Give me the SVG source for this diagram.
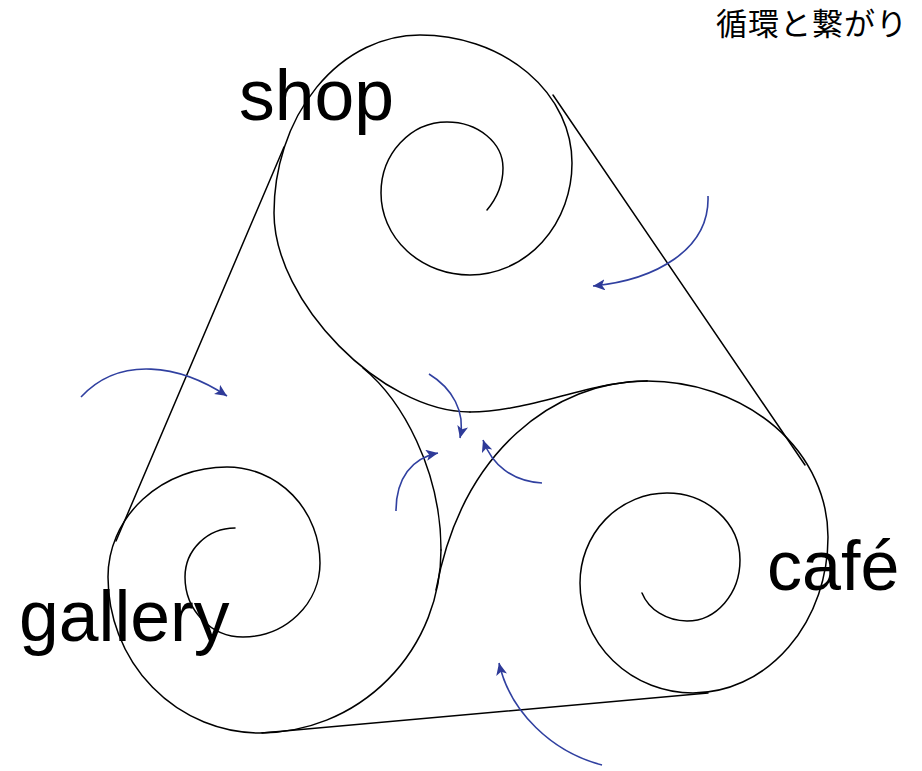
<svg xmlns="http://www.w3.org/2000/svg" width="922" height="771" viewBox="0 0 922 771">
  <style>
    .line { fill: none; stroke: #000; stroke-width: 1.5; stroke-linecap: round; stroke-linejoin: round; }
    .flow { fill: none; stroke: #3040a0; stroke-width: 1.6; marker-end: url(#ah); }
    .label { font-family: "Liberation Sans", Arial, Helvetica, sans-serif; font-size: 70px; fill: #000; }
    .title { font-family: "Noto Sans CJK JP", "Noto Sans CJK SC", sans-serif; font-size: 31px; letter-spacing: 1px; fill: #000; }
  </style>
  <defs>
    <marker id="ah" markerUnits="userSpaceOnUse" markerWidth="14" markerHeight="12" refX="12" refY="5.5" orient="auto">
      <path d="M0,0 L12,5.5 L0,11 L3,5.5 Z" fill="#2e3a98"/>
    </marker>
  </defs>
  <rect width="922" height="771" fill="#fff"/>

  <text class="title" x="716" y="35">循環と繋がり</text>

  <g id="shop">
    <path class="line" d="M487,210 C497,198 503,185 503,168 A56,46 0 0 0 447,122 A66,71 0 0 0 381,193 A89,82 0 0 0 470,275 A102,112 0 0 0 572,163 A152,128 0 0 0 420,35 A146,178 0 0 0 274,213 C274,302 382,412 470,412"/>
    <text class="label" x="239" y="120" style="font-size:71.5px">shop</text>
  </g>

  <g id="cafe">
    <path class="line" d="M647,381 A181,156 0 0 1 828,537 A135,156 0 0 1 693,693 A113,110 0 0 1 580,583 A87,90 0 0 1 667,493 A73,67 0 0 1 740,560 A53,61 0 0 1 687,621 A48,42 0 0 1 642,593"/>
    <text class="label" x="767" y="590">café</text>
  </g>

  <g id="gallery">
    <path class="line" d="M235,528 A50,49 0 0 0 185,577 A58,60 0 0 0 243,637 A77,74 0 0 0 320,563 A93,96 0 0 0 227,467 A119,110 0 0 0 108,577 A152,156 0 0 0 260,733 A181,183 0 0 0 441,550"/>
    <text class="label" x="19" y="641" style="font-size:71.5px">gallery</text>
  </g>

  <g id="bands">
    <path class="line" d="M470,412 C530,412 590,381 647,381"/>
    <path class="line" d="M647,381 C555,381 462,450 436,590"/>
    <path class="line" d="M441,550 C441,470 402,400 363,368"/>
    <path class="line" d="M553,95 L805,465"/>
    <path class="line" d="M284,147 L116,541"/>
    <path class="line" d="M262,733 L708,693"/>
  </g>

  <g id="connectors">
    <path class="flow" d="M708,196 C710,250 655,280 593,286"/>
    <path class="flow" d="M81,397 C120,355 180,365 227,396"/>
    <path class="flow" d="M429,374 C452,388 466,412 460,438"/>
    <path class="flow" d="M396,511 C396,478 412,458 438,453"/>
    <path class="flow" d="M542,483 C512,481 492,465 483,440"/>
    <path class="flow" d="M602,765 C552,752 510,712 499,663"/>
  </g>
</svg>
